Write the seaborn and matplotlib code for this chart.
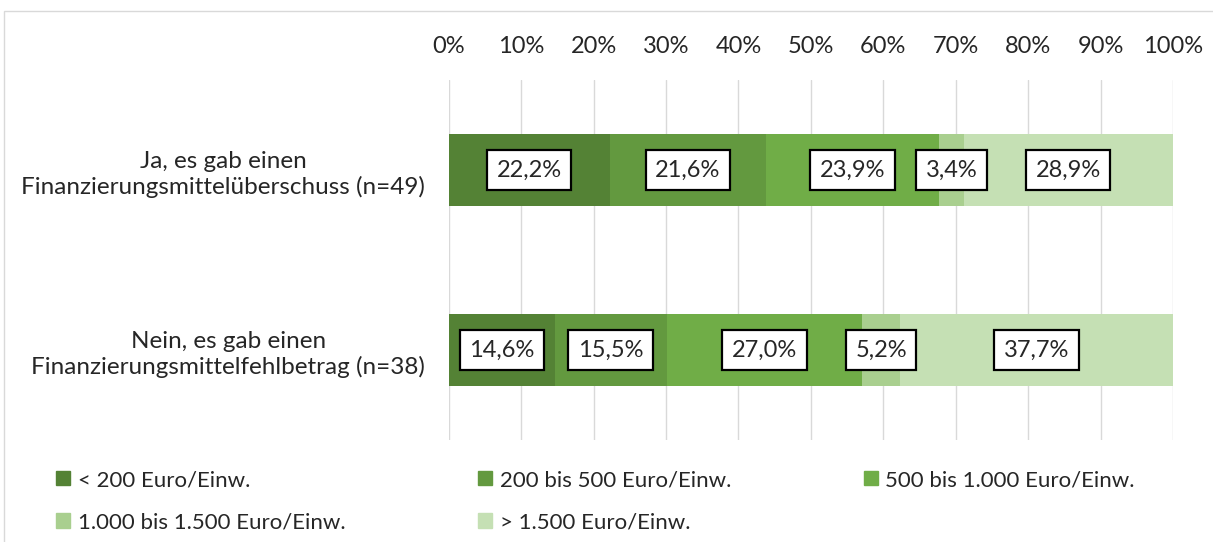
import matplotlib
matplotlib.use("Agg")
import matplotlib.pyplot as plt
import matplotlib.patches as mpatches
import numpy as np
import pandas as pd
import seaborn as sns

# Data
categories = [
    "Ja, es gab einen\nFinanzierungsmittelüberschuss (n=49)",
    "Nein, es gab einen\nFinanzierungsmittelfehlbetrag (n=38)",
]
series = [
    "< 200 Euro/Einw.",
    "200 bis 500 Euro/Einw.",
    "500 bis 1.000 Euro/Einw.",
    "1.000 bis 1.500 Euro/Einw.",
    "> 1.500 Euro/Einw.",
]
values = {
    "< 200 Euro/Einw.": [22.2, 14.6],
    "200 bis 500 Euro/Einw.": [21.6, 15.5],
    "500 bis 1.000 Euro/Einw.": [23.9, 27.0],
    "1.000 bis 1.500 Euro/Einw.": [3.4, 5.2],
    "> 1.500 Euro/Einw.": [28.9, 37.7],
}
colors = ["#548235", "#63993f", "#70ad47", "#a9cf8f", "#c5e0b4"]
ticks = list(range(0, 101, 10))

sns.set_theme(style="white")
plt.rcParams["font.family"] = ["Lato", "DejaVu Sans"]

df = pd.DataFrame(values, index=categories)
cum = df.cumsum(axis=1)

fig = plt.figure(figsize=(12.13, 5.42), dpi=100)
ax = fig.add_axes([0.370, 0.188, 0.597, 0.664])

# stacked bars: draw cumulative totals from the right-most segment backwards
for name, col in reversed(list(zip(series, colors))):
    sns.barplot(
        x=cum[name].values,
        y=categories,
        color=col,
        orient="h",
        width=0.4,
        saturation=1,
        linewidth=0,
        ax=ax,
        zorder=2,
    )

# value labels in white boxes, centered in each segment
for i, cat in enumerate(categories):
    left = 0
    for name in series:
        v = df.loc[cat, name]
        ax.text(
            left + v / 2,
            i,
            f"{v:.1f}%".replace(".", ","),
            ha="center",
            va="center",
            fontsize=17,
            color="#262626",
            zorder=5,
            bbox=dict(boxstyle="square,pad=0.4", fc="white", ec="black", lw=1.6),
        )
        left += v

ax.set_xlim(0, 100)
ax.set_ylim(1.5, -0.5)
ax.set_xticks(ticks)
ax.set_xticklabels([f"{t}%" for t in ticks], fontsize=17, color="#262626")
ax.xaxis.tick_top()
ax.tick_params(axis="x", length=0, pad=17)
ax.tick_params(axis="y", length=0, pad=17)
for lab in ax.get_yticklabels():
    lab.set_fontsize(17.5)
    lab.set_color("#262626")
    lab.set_multialignment("center")
    lab.set_linespacing(1.25)
ax.grid(axis="x", color="#d9d9d9", lw=1, zorder=0)
ax.set_axisbelow(True)
ax.set_xlabel("")
ax.set_ylabel("")
for s in ax.spines.values():
    s.set_visible(False)

# legend filled row by row like the original (matplotlib fills column-wise)
order = [0, 3, 1, 4, 2]
handles = [mpatches.Patch(color=colors[k], label=series[k]) for k in order]
fig.legend(
    handles=handles,
    loc="lower left",
    bbox_to_anchor=(0.03, -0.019),
    ncol=3,
    frameon=False,
    fontsize=16,
    handlelength=0.6,
    handleheight=0.6,
    handletextpad=0.35,
    columnspacing=6.0,
    labelspacing=1.0,
    labelcolor="#262626",
)

# light frame around the chart area
fig.patches.append(
    mpatches.Rectangle((0.003, -0.01), 1.2, 0.99, transform=fig.transFigure,
                       fill=False, ec="#d9d9d9", lw=1)
)

fig.savefig("out.png", dpi=100)
